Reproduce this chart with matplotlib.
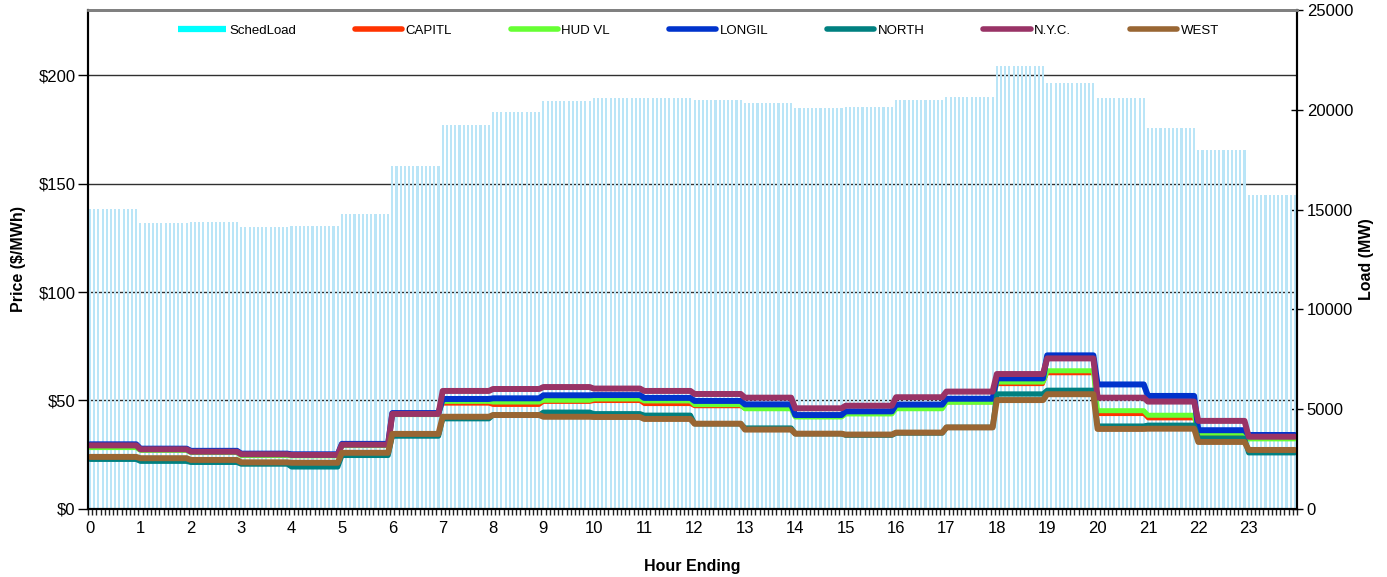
import matplotlib
matplotlib.use('Agg')
import matplotlib.pyplot as plt
import numpy as np
from matplotlib.lines import Line2D
from matplotlib.transforms import blended_transform_factory

plt.rcParams['font.family'] = ['Liberation Sans', 'DejaVu Sans']

# ---- data (hourly values, each hour shown as 12 five-minute intervals) ----
hours = list(range(24))
sched_load = [15030, 14310, 14380, 14130, 14180, 14780, 17180, 19240, 19910, 20440,
              20570, 20590, 20490, 20330, 20080, 20130, 20490, 20630, 22190, 21340,
              20570, 19100, 17970, 15730]
capitl = [28.8, 27.2, 26.2, 24.8, 25.3, 29.5, 44.6, 48.4, 47.8, 49.2, 49.6, 48.2,
          47.2, 46.0, 42.4, 43.8, 46.5, 49.0, 57.4, 62.4, 43.6, 41.6, 34.3, 32.4]
hud_vl = [28.3, 27.0, 26.0, 24.6, 24.5, 29.2, 43.5, 49.6, 49.3, 50.1, 50.7, 49.8,
          48.1, 46.2, 42.4, 43.8, 46.2, 49.2, 58.5, 63.7, 45.3, 43.2, 34.9, 32.3]
longil = [29.8, 27.8, 26.8, 25.5, 25.2, 30.0, 44.2, 50.7, 51.0, 52.4, 52.5, 51.2,
          49.8, 48.2, 43.3, 45.0, 48.1, 50.8, 60.2, 70.8, 57.4, 52.1, 36.3, 34.1]
north = [22.9, 22.0, 21.5, 20.7, 19.4, 24.7, 33.6, 41.6, 43.3, 44.6, 43.9, 43.2,
         39.3, 37.3, 34.7, 34.0, 35.0, 37.6, 53.0, 54.7, 38.2, 38.6, 32.6, 25.9]
nyc = [29.3, 27.5, 26.4, 25.2, 24.9, 29.6, 43.8, 54.4, 55.3, 56.2, 55.5, 54.4,
       53.0, 51.3, 46.4, 47.6, 51.5, 54.1, 62.2, 69.4, 51.3, 49.5, 40.6, 33.3]
west = [24.0, 23.4, 22.6, 21.5, 21.3, 25.9, 34.6, 42.5, 43.3, 42.5, 42.4, 41.5,
        39.3, 36.6, 34.7, 34.3, 35.2, 37.6, 50.2, 52.9, 36.9, 37.0, 30.9, 27.2]
price_ticks = [0, 50, 100, 150, 200]
load_ticks = [0, 5000, 10000, 15000, 20000, 25000]

series = [
    ('CAPITL', capitl, '#FF3300', 2.4),
    ('HUD VL', hud_vl, '#66FF33', 3.6),
    ('LONGIL', longil, '#0033CC', 4.3),
    ('NORTH', north, '#008080', 3.8),
    ('N.Y.C.', nyc, '#993366', 4.3),
    ('WEST', west, '#996633', 4.3),
]

per_hour = 12
x = np.arange(24 * per_hour) + 0.5

fig = plt.figure(figsize=(13.87, 5.77), dpi=100)
ax1 = fig.add_axes([0.0634, 0.1179, 0.8717, 0.8648])
ax2 = ax1.twinx()
ax1.set_zorder(2)
ax2.set_zorder(1)
ax1.patch.set_visible(False)

ax1.set_xlim(0, 24 * per_hour)
ax1.set_ylim(0, 230)
ax2.set_ylim(0, 25000)

# gridlines from the price axis, drawn beneath the load bars
tr = blended_transform_factory(ax2.transAxes, ax1.transData)
for p in price_ticks[1:]:
    ax2.plot([0, 1], [p, p], transform=tr, color='#303030', lw=1.0, zorder=1)

ax2.bar(x, np.repeat(sched_load, per_hour), width=0.5, color='#BAE5F7',
        linewidth=0, zorder=2)

for name, vals, col, lw in series:
    ax1.plot(x, np.repeat(vals, per_hour), color=col, lw=lw,
             solid_capstyle='round', solid_joinstyle='round')

# x axis
ax1.set_xticks(np.arange(24) * per_hour + 0.5)
ax1.set_xticklabels([str(h) for h in hours], fontsize=12)
ax1.set_xticks(np.arange(0, 24 * per_hour + 1), minor=True)
ax1.tick_params(axis='x', which='major', length=0, pad=9)
ax1.tick_params(axis='x', which='minor', length=4, width=1, direction='out', color='#222222')

# y axes
ax1.set_yticks(price_ticks)
ax1.set_yticklabels(['\\$%d' % v for v in price_ticks], fontsize=12)
ax1.tick_params(axis='y', length=7, width=1, direction='out', pad=2)
ax2.set_yticks(load_ticks)
ax2.set_yticklabels([str(v) for v in load_ticks], fontsize=12)
ax2.tick_params(axis='y', length=8, width=1, direction='inout', pad=3)

for ax in (ax1, ax2):
    ax.spines['top'].set_color('#808080')
    ax.spines['top'].set_linewidth(2)
    for s in ('left', 'right', 'bottom'):
        ax.spines[s].set_color('black')
        ax.spines[s].set_linewidth(1.5)

ax1.set_ylabel('Price (\\$/MWh)', fontsize=11.5, fontweight='bold')
ax1.yaxis.set_label_coords(-0.051, 0.5)
ax2.set_ylabel('Load (MW)', fontsize=11.5, fontweight='bold')
ax2.yaxis.set_label_coords(1.0513, 0.5)
ax1.set_xlabel('Hour Ending', fontsize=11.5, fontweight='bold')
ax1.xaxis.set_label_coords(0.5, -0.1)

handles = [Line2D([], [], color='#00FFFF', lw=4.5, solid_capstyle='butt')]
labels = ['SchedLoad']
for name, vals, col, lw in series:
    handles.append(Line2D([], [], color=col, lw=4.0, solid_capstyle='round'))
    labels.append(name)
ax1.legend(handles, labels, ncol=7, loc='upper center', bbox_to_anchor=(0.505, 0.995),
           frameon=False, fontsize=9.5, handlelength=3.6, handletextpad=0.25,
           columnspacing=4.45)

fig.savefig('out.png', dpi=100)
